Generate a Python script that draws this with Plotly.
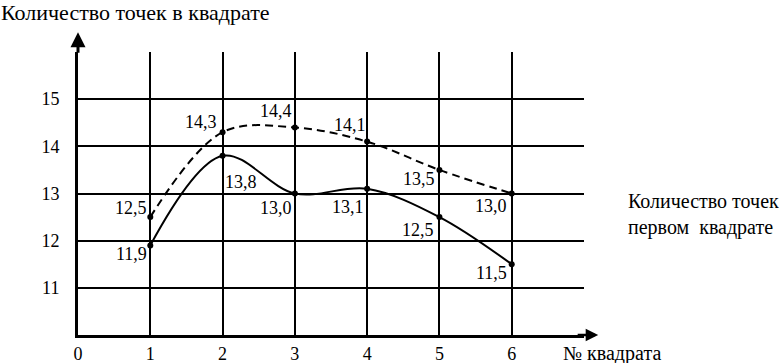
import plotly.graph_objects as go

squares = [1, 2, 3, 4, 5, 6]
solid_vals = [11.9, 13.8, 13.0, 13.1, 12.5, 11.5]
dashed_vals = [12.5, 14.3, 14.4, 14.1, 13.5, 13.0]
x_tick_vals = [0, 1, 2, 3, 4, 5, 6, 7]
x_tick_text = ["0", "1", "2", "3", "4", "5", "6", ""]
y_tick_vals = [10, 11, 12, 13, 14, 15, 16]
y_tick_text = ["", "11", "12", "13", "14", "15", ""]

title_text = "Количество точек в квадрате"
xlabel_text = "№ квадрата"
side_text = "Количество точек<br>первом  квадрате"

FONT = "Liberation Serif"
fmt = lambda v: f"{v:.1f}".replace(".", ",")

def tfont(size):
    return dict(family=FONT, size=size, color="black")

fig = go.Figure()
fig.add_trace(go.Scatter(
    x=squares, y=dashed_vals, mode="lines+markers",
    line=dict(color="black", width=2, dash="8px,5px", shape="spline", smoothing=1.0),
    marker=dict(color="black", size=6), showlegend=False, hoverinfo="skip"))
fig.add_trace(go.Scatter(
    x=squares, y=solid_vals, mode="lines+markers",
    line=dict(color="black", width=2, shape="spline", smoothing=1.0),
    marker=dict(color="black", size=6), showlegend=False, hoverinfo="skip"))

# label placement for each point: (xanchor, xshift, yshift) in pixels
solid_pos = [("right", -2, -9), ("left", 1, -26), ("right", -2, -14),
             ("right", -2, -18), ("right", -4, -13), ("right", -4, -9)]
dashed_pos = [("right", -2, 9), ("right", -5, 10), ("right", -2, 16),
              ("right", 0, 17), ("right", -3, -9), ("right", -4, -12)]

anns = []
for xs, ys, pos in [(squares, solid_vals, solid_pos), (squares, dashed_vals, dashed_pos)]:
    for x, y, (xa, dx, dy) in zip(xs, ys, pos):
        anns.append(dict(x=x, y=y, xref="x", yref="y", text=fmt(y), showarrow=False,
                         xanchor=xa, yanchor="middle", xshift=dx, yshift=dy, borderpad=0,
                         font=tfont(18)))

# axis arrows
anns.append(dict(x=0, y=1.07, xref="x", yref="paper", ax=0, ay=22, axref="pixel", ayref="pixel",
                 text="", showarrow=True, arrowhead=2, arrowsize=1, arrowwidth=3, arrowcolor="black"))
anns.append(dict(x=1.028, y=10, xref="paper", yref="y", ax=-22, ay=0,
                 text="", showarrow=True, arrowhead=2, arrowsize=1, arrowwidth=2.5, arrowcolor="black"))

anns.append(dict(x=-78 / 506, y=(335 - 12) / 283, xref="paper", yref="paper",
                 text=title_text, showarrow=False, xanchor="left", yanchor="middle",
                 borderpad=0, font=tfont(22)))
anns.append(dict(x=(612 - 78) / 506, y=-18 / 283, xref="paper", yref="paper",
                 text=xlabel_text, showarrow=False, xanchor="center", yanchor="middle",
                 borderpad=0, font=tfont(20)))
anns.append(dict(x=(627 - 78) / 506, y=(335 - 214) / 283, xref="paper", yref="paper",
                 text=side_text, showarrow=False, xanchor="left", yanchor="middle", align="left",
                 borderpad=0, font=tfont(20)))

fig.update_layout(
    width=783, height=363,
    margin=dict(l=78, r=199, t=52, b=28, autoexpand=False),
    paper_bgcolor="white", plot_bgcolor="white",
    font=dict(family=FONT, color="black"),
    annotations=anns,
    xaxis=dict(range=[0, 7], tickvals=x_tick_vals, ticktext=x_tick_text,
               showgrid=True, gridcolor="black", gridwidth=2, zeroline=False,
               showline=True, linecolor="black", linewidth=3, ticks="",
               ticklabelstandoff=0, automargin=False,
               tickfont=tfont(18), fixedrange=True),
    yaxis=dict(range=[10, 16], tickvals=y_tick_vals, ticktext=y_tick_text,
               showgrid=True, gridcolor="black", gridwidth=2, zeroline=False,
               showline=True, linecolor="black", linewidth=3, ticks="",
               ticklabelstandoff=12, automargin=False,
               tickfont=tfont(18), fixedrange=True),
)

fig.write_html("out.html", config={"displayModeBar": False},
               post_script="document.body.style.margin='0';")
